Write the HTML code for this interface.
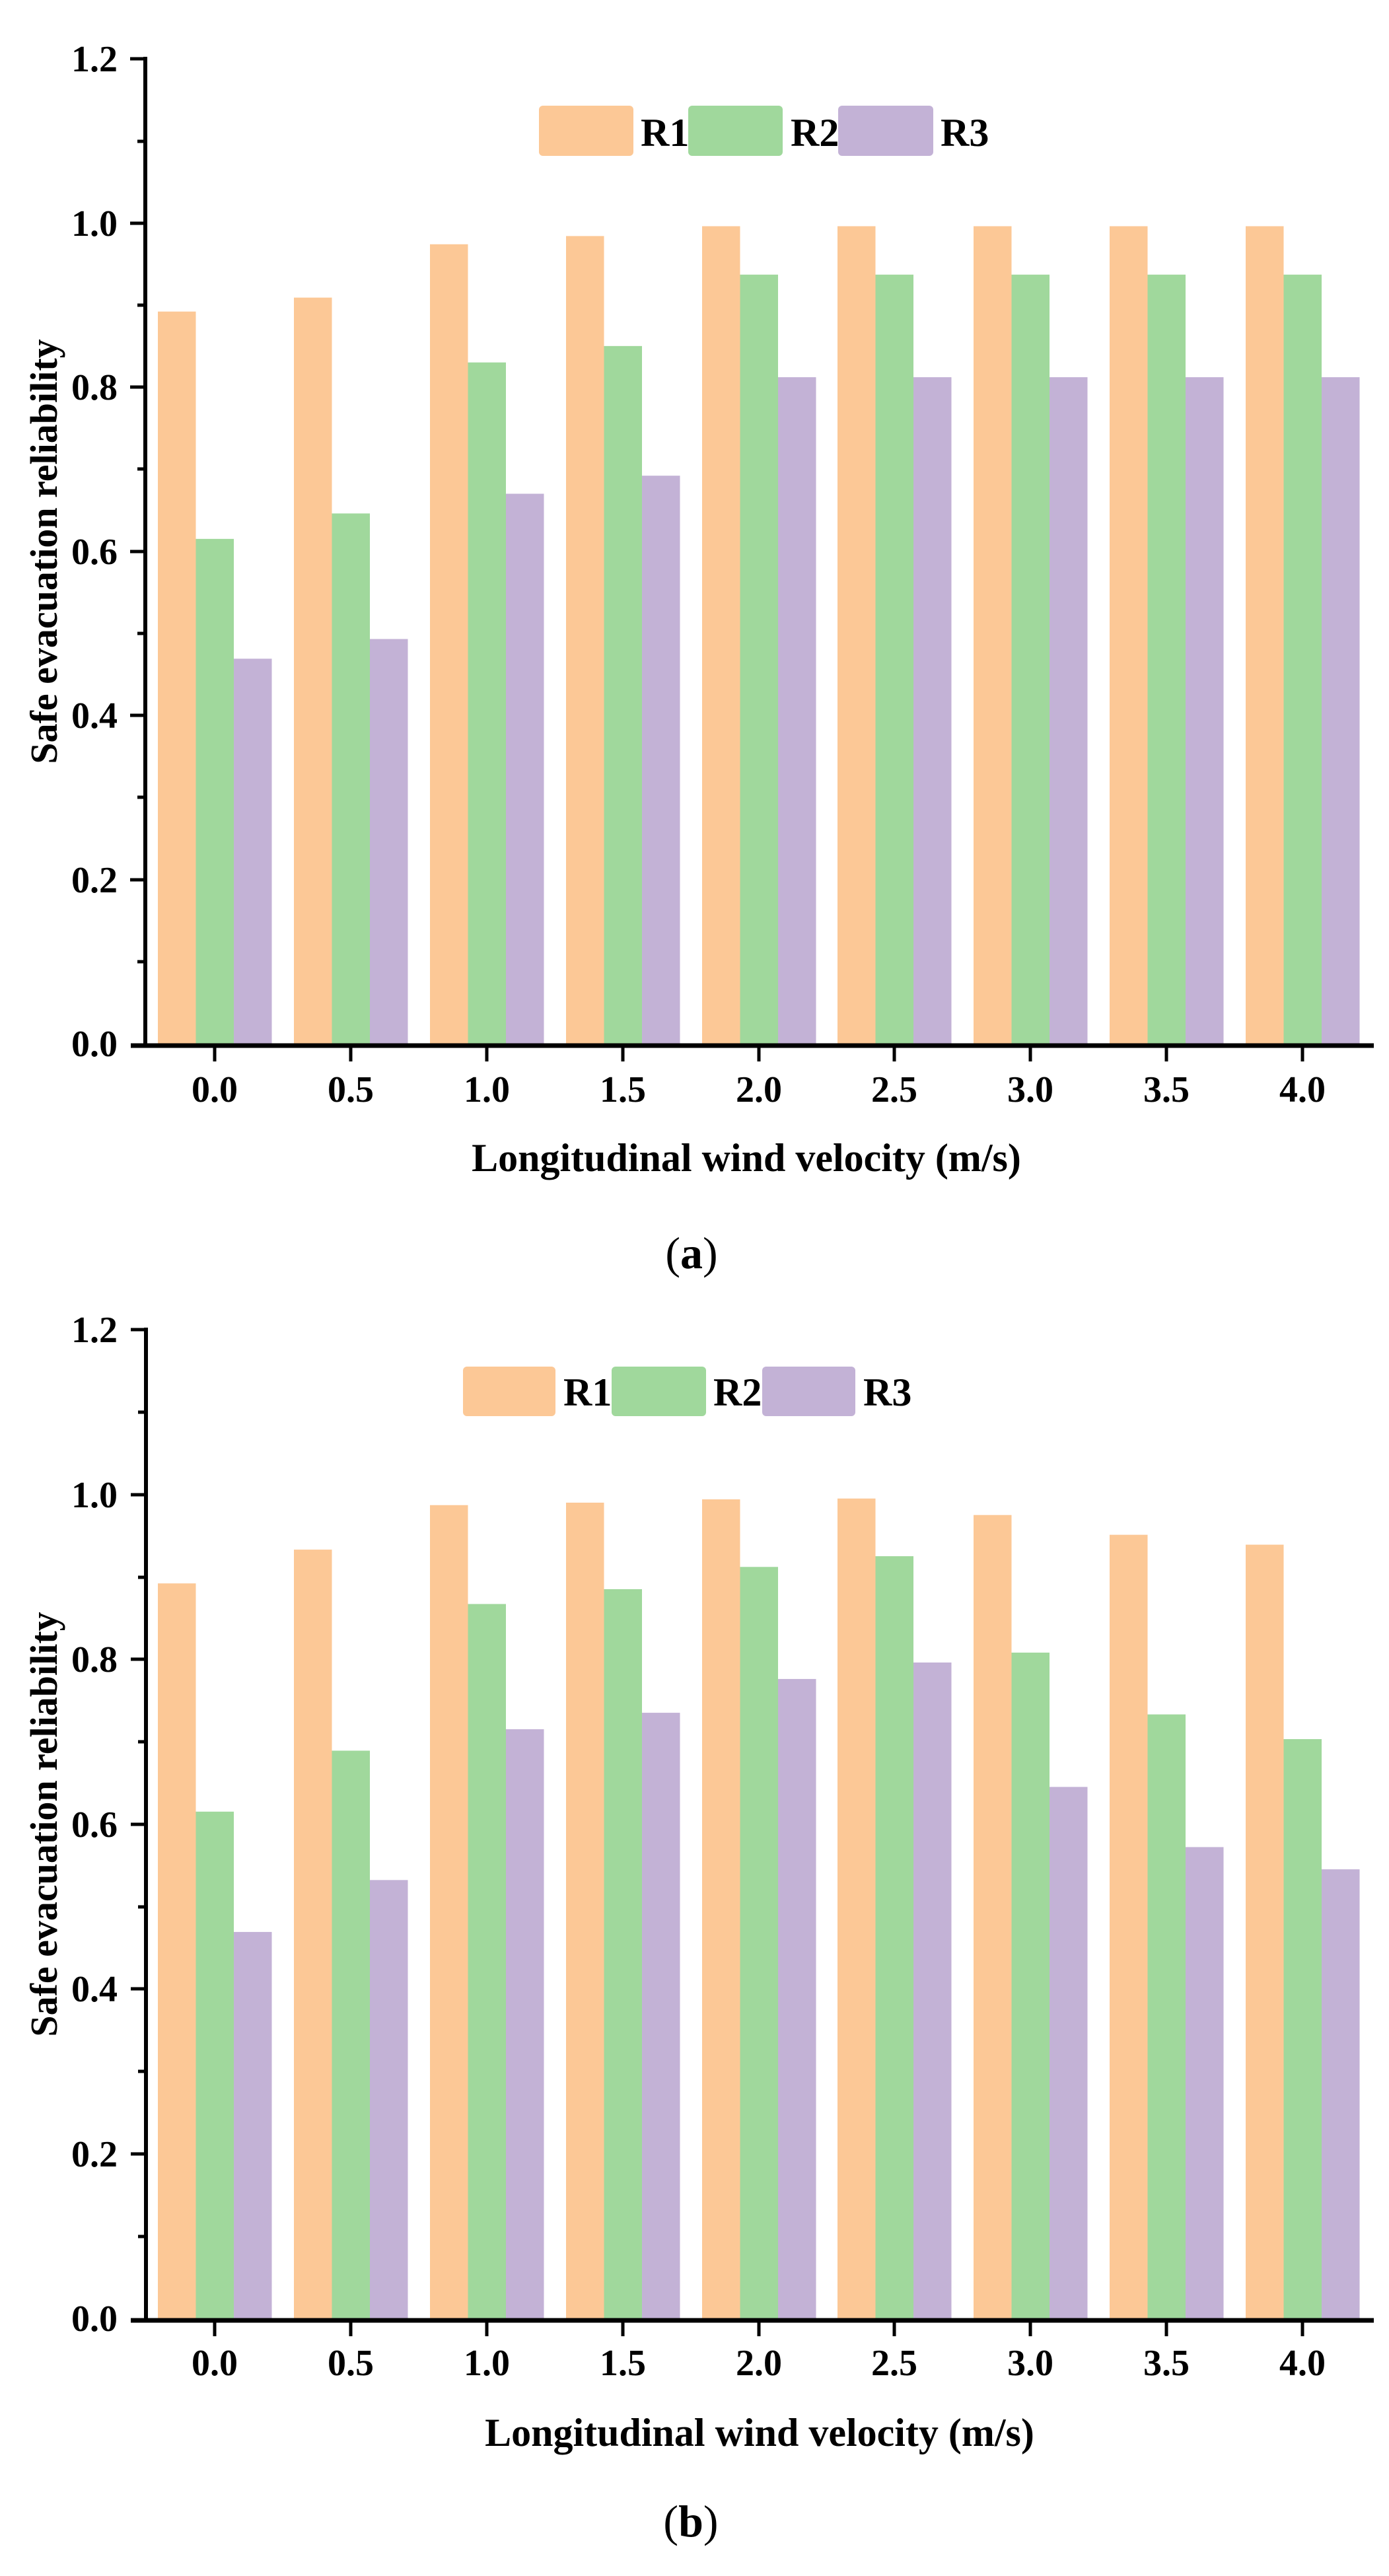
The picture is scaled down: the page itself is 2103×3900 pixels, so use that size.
<!DOCTYPE html>
<html><head><meta charset="utf-8"><style>
html,body{margin:0;padding:0;background:#fff;}
svg{display:block;}
text{font-family:"Liberation Serif",serif;font-weight:bold;fill:#000;}
</style></head><body>
<svg width="2103" height="3900" viewBox="0 0 2103 3900" xmlns="http://www.w3.org/2000/svg">
<!-- ============ Chart A ============ -->
<g id="A">
  <g transform="translate(0,1580) scale(1,-1242.5)">
    <g transform="translate(325,0)"><rect x="-86" width="57.5" height="0.892" fill="#FCC896"/><rect x="-28.5" width="57.5" height="0.615" fill="#A0D89C"/><rect x="29" width="57.5" height="0.469" fill="#C3B2D6"/></g>
    <g transform="translate(531,0)"><rect x="-86" width="57.5" height="0.909" fill="#FCC896"/><rect x="-28.5" width="57.5" height="0.646" fill="#A0D89C"/><rect x="29" width="57.5" height="0.493" fill="#C3B2D6"/></g>
    <g transform="translate(737,0)"><rect x="-86" width="57.5" height="0.974" fill="#FCC896"/><rect x="-28.5" width="57.5" height="0.830" fill="#A0D89C"/><rect x="29" width="57.5" height="0.670" fill="#C3B2D6"/></g>
    <g transform="translate(943,0)"><rect x="-86" width="57.5" height="0.984" fill="#FCC896"/><rect x="-28.5" width="57.5" height="0.850" fill="#A0D89C"/><rect x="29" width="57.5" height="0.692" fill="#C3B2D6"/></g>
    <g transform="translate(1149,0)"><rect x="-86" width="57.5" height="0.996" fill="#FCC896"/><rect x="-28.5" width="57.5" height="0.937" fill="#A0D89C"/><rect x="29" width="57.5" height="0.812" fill="#C3B2D6"/></g>
    <g transform="translate(1354,0)"><rect x="-86" width="57.5" height="0.996" fill="#FCC896"/><rect x="-28.5" width="57.5" height="0.937" fill="#A0D89C"/><rect x="29" width="57.5" height="0.812" fill="#C3B2D6"/></g>
    <g transform="translate(1560,0)"><rect x="-86" width="57.5" height="0.996" fill="#FCC896"/><rect x="-28.5" width="57.5" height="0.937" fill="#A0D89C"/><rect x="29" width="57.5" height="0.812" fill="#C3B2D6"/></g>
    <g transform="translate(1766,0)"><rect x="-86" width="57.5" height="0.996" fill="#FCC896"/><rect x="-28.5" width="57.5" height="0.937" fill="#A0D89C"/><rect x="29" width="57.5" height="0.812" fill="#C3B2D6"/></g>
    <g transform="translate(1972,0)"><rect x="-86" width="57.5" height="0.996" fill="#FCC896"/><rect x="-28.5" width="57.5" height="0.937" fill="#A0D89C"/><rect x="29" width="57.5" height="0.812" fill="#C3B2D6"/></g>
  </g>
  <!-- axes -->
  <line x1="220" y1="86" x2="220" y2="1583" stroke="#000" stroke-width="6"/>
  <line x1="198" y1="1583" x2="2080" y2="1583" stroke="#000" stroke-width="7"/>
  <g stroke="#000" stroke-width="5">
    <line x1="197" y1="89" x2="220" y2="89"/><line x1="197" y1="338" x2="220" y2="338"/><line x1="197" y1="586" x2="220" y2="586"/><line x1="197" y1="835" x2="220" y2="835"/><line x1="197" y1="1083" x2="220" y2="1083"/><line x1="197" y1="1332" x2="220" y2="1332"/>
    <line x1="208" y1="214" x2="220" y2="214"/><line x1="208" y1="462" x2="220" y2="462"/><line x1="208" y1="710" x2="220" y2="710"/><line x1="208" y1="959" x2="220" y2="959"/><line x1="208" y1="1207" x2="220" y2="1207"/><line x1="208" y1="1456" x2="220" y2="1456"/>
    <line x1="325" y1="1583" x2="325" y2="1607"/><line x1="531" y1="1583" x2="531" y2="1607"/><line x1="737" y1="1583" x2="737" y2="1607"/><line x1="943" y1="1583" x2="943" y2="1607"/><line x1="1149" y1="1583" x2="1149" y2="1607"/><line x1="1354" y1="1583" x2="1354" y2="1607"/><line x1="1560" y1="1583" x2="1560" y2="1607"/><line x1="1766" y1="1583" x2="1766" y2="1607"/><line x1="1972" y1="1583" x2="1972" y2="1607"/>
  </g>
  <g font-size="56" text-anchor="end">
    <text x="178" y="108">1.2</text><text x="178" y="357">1.0</text><text x="178" y="605">0.8</text><text x="178" y="854">0.6</text><text x="178" y="1102">0.4</text><text x="178" y="1351">0.2</text><text x="178" y="1599">0.0</text>
  </g>
  <g font-size="56" text-anchor="middle">
    <text x="325" y="1668">0.0</text><text x="531" y="1668">0.5</text><text x="737" y="1668">1.0</text><text x="943" y="1668">1.5</text><text x="1149" y="1668">2.0</text><text x="1354" y="1668">2.5</text><text x="1560" y="1668">3.0</text><text x="1766" y="1668">3.5</text><text x="1972" y="1668">4.0</text>
  </g>
  <text x="1130" y="1773" font-size="60" text-anchor="middle">Longitudinal wind velocity (m/s)</text>
  <text transform="translate(86,835) rotate(-90)" font-size="58" text-anchor="middle">Safe evacuation reliability</text>
  <!-- legend -->
  <rect x="816" y="160" width="143" height="76" rx="6" fill="#FCC896"/>
  <text x="970" y="221" font-size="60">R1</text>
  <rect x="1042" y="160" width="143" height="76" rx="6" fill="#A0D89C"/>
  <text x="1197" y="221" font-size="60">R2</text>
  <rect x="1269" y="160" width="144" height="76" rx="6" fill="#C3B2D6"/>
  <text x="1424" y="221" font-size="60">R3</text>
  <text x="1047" y="1920" font-size="68" text-anchor="middle" style="font-weight:normal">(<tspan style="font-weight:bold">a</tspan>)</text>
</g>

<!-- ============ Chart B ============ -->
<g id="B">
  <g transform="translate(0,3510) scale(1,-1247.5)">
    <g transform="translate(325,0)"><rect x="-86" width="57.5" height="0.892" fill="#FCC896"/><rect x="-28.5" width="57.5" height="0.615" fill="#A0D89C"/><rect x="29" width="57.5" height="0.469" fill="#C3B2D6"/></g>
    <g transform="translate(531,0)"><rect x="-86" width="57.5" height="0.933" fill="#FCC896"/><rect x="-28.5" width="57.5" height="0.689" fill="#A0D89C"/><rect x="29" width="57.5" height="0.532" fill="#C3B2D6"/></g>
    <g transform="translate(737,0)"><rect x="-86" width="57.5" height="0.987" fill="#FCC896"/><rect x="-28.5" width="57.5" height="0.867" fill="#A0D89C"/><rect x="29" width="57.5" height="0.715" fill="#C3B2D6"/></g>
    <g transform="translate(943,0)"><rect x="-86" width="57.5" height="0.990" fill="#FCC896"/><rect x="-28.5" width="57.5" height="0.885" fill="#A0D89C"/><rect x="29" width="57.5" height="0.735" fill="#C3B2D6"/></g>
    <g transform="translate(1149,0)"><rect x="-86" width="57.5" height="0.994" fill="#FCC896"/><rect x="-28.5" width="57.5" height="0.912" fill="#A0D89C"/><rect x="29" width="57.5" height="0.776" fill="#C3B2D6"/></g>
    <g transform="translate(1354,0)"><rect x="-86" width="57.5" height="0.995" fill="#FCC896"/><rect x="-28.5" width="57.5" height="0.925" fill="#A0D89C"/><rect x="29" width="57.5" height="0.796" fill="#C3B2D6"/></g>
    <g transform="translate(1560,0)"><rect x="-86" width="57.5" height="0.975" fill="#FCC896"/><rect x="-28.5" width="57.5" height="0.808" fill="#A0D89C"/><rect x="29" width="57.5" height="0.645" fill="#C3B2D6"/></g>
    <g transform="translate(1766,0)"><rect x="-86" width="57.5" height="0.951" fill="#FCC896"/><rect x="-28.5" width="57.5" height="0.733" fill="#A0D89C"/><rect x="29" width="57.5" height="0.572" fill="#C3B2D6"/></g>
    <g transform="translate(1972,0)"><rect x="-86" width="57.5" height="0.939" fill="#FCC896"/><rect x="-28.5" width="57.5" height="0.703" fill="#A0D89C"/><rect x="29" width="57.5" height="0.545" fill="#C3B2D6"/></g>
  </g>
  <line x1="221" y1="2010" x2="221" y2="3513" stroke="#000" stroke-width="6"/>
  <line x1="198" y1="3513" x2="2080" y2="3513" stroke="#000" stroke-width="7"/>
  <g stroke="#000" stroke-width="5">
    <line x1="198" y1="2013" x2="221" y2="2013"/><line x1="198" y1="2263" x2="221" y2="2263"/><line x1="198" y1="2512" x2="221" y2="2512"/><line x1="198" y1="2762" x2="221" y2="2762"/><line x1="198" y1="3011" x2="221" y2="3011"/><line x1="198" y1="3261" x2="221" y2="3261"/>
    <line x1="209" y1="2138" x2="221" y2="2138"/><line x1="209" y1="2388" x2="221" y2="2388"/><line x1="209" y1="2637" x2="221" y2="2637"/><line x1="209" y1="2887" x2="221" y2="2887"/><line x1="209" y1="3136" x2="221" y2="3136"/><line x1="209" y1="3386" x2="221" y2="3386"/>
    <line x1="325" y1="3513" x2="325" y2="3537"/><line x1="531" y1="3513" x2="531" y2="3537"/><line x1="737" y1="3513" x2="737" y2="3537"/><line x1="943" y1="3513" x2="943" y2="3537"/><line x1="1149" y1="3513" x2="1149" y2="3537"/><line x1="1354" y1="3513" x2="1354" y2="3537"/><line x1="1560" y1="3513" x2="1560" y2="3537"/><line x1="1766" y1="3513" x2="1766" y2="3537"/><line x1="1972" y1="3513" x2="1972" y2="3537"/>
  </g>
  <g font-size="56" text-anchor="end">
    <text x="178" y="2032">1.2</text><text x="178" y="2282">1.0</text><text x="178" y="2531">0.8</text><text x="178" y="2781">0.6</text><text x="178" y="3030">0.4</text><text x="178" y="3280">0.2</text><text x="178" y="3529">0.0</text>
  </g>
  <g font-size="56" text-anchor="middle">
    <text x="325" y="3596">0.0</text><text x="531" y="3596">0.5</text><text x="737" y="3596">1.0</text><text x="943" y="3596">1.5</text><text x="1149" y="3596">2.0</text><text x="1354" y="3596">2.5</text><text x="1560" y="3596">3.0</text><text x="1766" y="3596">3.5</text><text x="1972" y="3596">4.0</text>
  </g>
  <text x="1150" y="3703" font-size="60" text-anchor="middle">Longitudinal wind velocity (m/s)</text>
  <text transform="translate(86,2762) rotate(-90)" font-size="58" text-anchor="middle">Safe evacuation reliability</text>
  <rect x="701" y="2069" width="140" height="75" rx="6" fill="#FCC896"/>
  <text x="853" y="2128" font-size="60">R1</text>
  <rect x="926" y="2069" width="143" height="75" rx="6" fill="#A0D89C"/>
  <text x="1080" y="2128" font-size="60">R2</text>
  <rect x="1154" y="2069" width="141" height="75" rx="6" fill="#C3B2D6"/>
  <text x="1307" y="2128" font-size="60">R3</text>
  <text x="1046" y="3840" font-size="68" text-anchor="middle" style="font-weight:normal">(<tspan style="font-weight:bold">b</tspan>)</text>
</g>
</svg>
</body></html>
